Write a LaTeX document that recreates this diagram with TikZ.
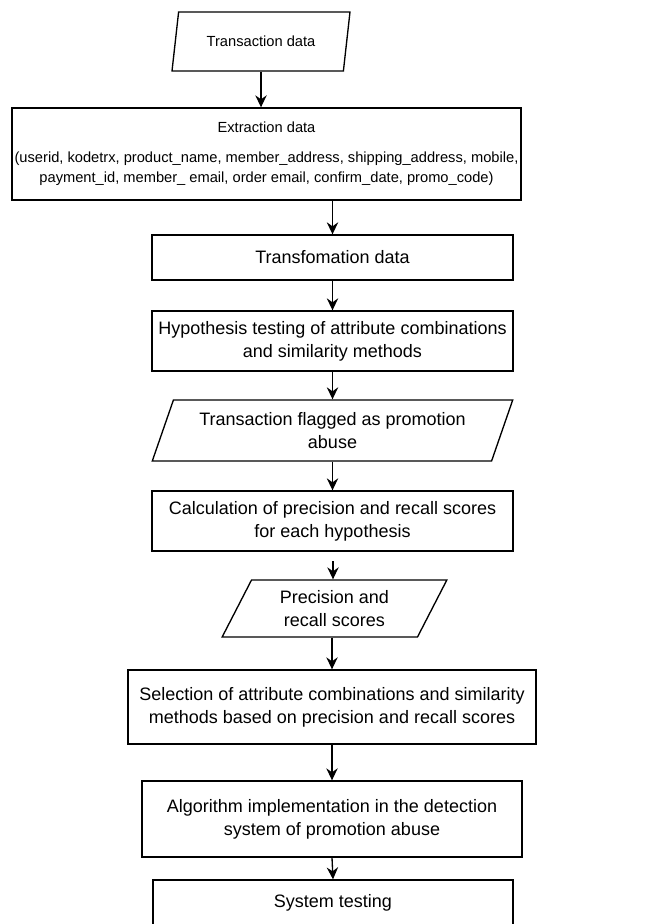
\documentclass[tikz,border=0pt]{standalone}
\usepackage{fontspec}
\setmainfont{Liberation Sans}
\usetikzlibrary{arrows.meta,shapes.geometric}
\def\px{0.75pt}
\tikzset{
  procbox/.style={draw, rectangle, line width=1pt, align=center, inner sep=0pt,
    font=\fontsize{13.5}{17.3}\selectfont},
  iobox/.style={draw, trapezium, trapezium stretches=true, line width=1pt,
    align=center, inner sep=0pt, font=\fontsize{13.5}{17.3}\selectfont},
  arr/.style={-{Stealth[length=9pt,width=8.5pt,inset=3pt]}, line width=1pt}
}

\begin{document}
\begin{tikzpicture}[x=0.75pt,y=-0.75pt]
%%%%% START %%%%%
\useasboundingbox (0,0) rectangle (657,924);
\fill[white] (0,0) rectangle (657,924);
\clip (0,0) rectangle (657,924);

\node[iobox, trapezium left angle=68, trapezium right angle=112,
  minimum width=179*\px, minimum height=59*\px,
  font=\fontsize{11}{15}\selectfont] (trans) at (261,41.5) {Transaction data};

\node[procbox, minimum width=509*\px, minimum height=92*\px,
  font=\fontsize{11}{15}\selectfont] (extract) at (266.5,154)
  {Extraction data\\[7.5pt]
   (userid, kodetrx, product\_name, member\_address, shipping\_address, mobile,\\
   payment\_id, member\_ email, order email, confirm\_date, promo\_code)};

\node[procbox, minimum width=361*\px, minimum height=45*\px] (transf) at (332.5,257.5)
  {Transfomation data};

\node[procbox, minimum width=361*\px, minimum height=60*\px] (hypo) at (332.5,341)
  {Hypothesis testing of attribute combinations\\and similarity methods};

\node[iobox, trapezium left angle=64, trapezium right angle=116,
  minimum width=361*\px, minimum height=61*\px] (flag) at (332.5,430.5)
  {Transaction flagged as promotion\\abuse};

\node[procbox, minimum width=361*\px, minimum height=60*\px] (calc) at (332.5,521)
  {Calculation of precision and recall scores\\for each hypothesis};

\node[iobox, trapezium left angle=62, trapezium right angle=118,
  minimum width=225*\px, minimum height=57*\px] (prec) at (334.5,608.5)
  {Precision and\\recall scores};

\node[procbox, minimum width=408*\px, minimum height=74*\px] (select) at (332,707)
  {Selection of attribute combinations and similarity\\methods based on precision and recall scores};

\node[procbox, minimum width=380*\px, minimum height=76*\px] (algo) at (332,819)
  {Algorithm implementation in the detection\\system of promotion abuse};

\node[procbox, minimum width=360*\px, minimum height=45*\px] (systest) at (333,902.5)
  {System testing};

% arrows
\draw[arr] (trans.south) -- (trans.south |- extract.north);
\draw[arr] (transf.north |- extract.south) -- (transf.north);
\draw[arr] (transf.south) -- (hypo.north);
\draw[arr] (hypo.south) -- (hypo.south |- flag.north);
\draw[arr] (flag.south -| calc.north) -- (calc.north);
\coordinate (gap) at (333,561);
\draw[arr] (gap) -- (gap |- prec.north);
\draw[arr] (prec.south -| select.north) -- (select.north);
\draw[arr] (select.south) -- (algo.north);
\draw[arr] (algo.south) -- (systest.north);
%%%%% END %%%%%
\end{tikzpicture}
\end{document}
